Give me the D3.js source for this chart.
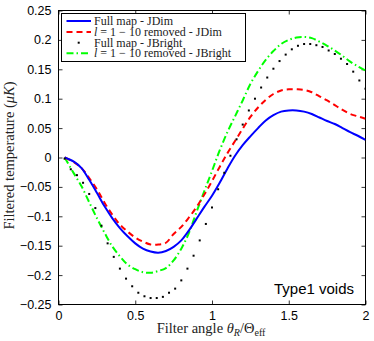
<!DOCTYPE html>
<html><head><meta charset="utf-8">
<script src="https://cdn.jsdelivr.net/npm/d3@7"></script>
<style>html,body{margin:0;padding:0;background:#fff;}svg{display:block;}</style>
</head><body>
<script>
// ---- data ----
const lineX = [0.04,0.10,0.15,0.20,0.25,0.30,0.35,0.40,0.45,0.50,0.55,0.60,0.65,0.70,0.75,0.80,0.85,0.90,0.95,1.00,
               1.05,1.10,1.15,1.20,1.25,1.30,1.35,1.40,1.45,1.50,1.55,1.60,1.65,1.70,1.75,1.80,1.85,1.90,1.95,2.00];
const fullDim = [0,-0.007,-0.018,-0.038,-0.060,-0.083,-0.103,-0.120,-0.134,-0.146,-0.155,-0.160,-0.162,-0.159,-0.152,-0.141,-0.124,-0.104,-0.084,-0.065,
                 -0.043,-0.019,0.003,0.021,0.036,0.050,0.063,0.072,0.078,0.080,0.080,0.078,0.074,0.068,0.062,0.057,0.050,0.043,0.037,0.030];
const removedDim = [0,-0.008,-0.018,-0.035,-0.054,-0.077,-0.097,-0.114,-0.126,-0.136,-0.143,-0.148,-0.148,-0.145,-0.130,-0.118,-0.102,-0.084,-0.063,-0.040,
                    -0.016,0.007,0.028,0.049,0.069,0.085,0.098,0.108,0.114,0.116,0.116,0.115,0.111,0.104,0.097,0.089,0.081,0.074,0.070,0.066];
const removedBright = [0,-0.027,-0.049,-0.076,-0.103,-0.128,-0.151,-0.168,-0.182,-0.190,-0.195,-0.196,-0.193,-0.188,-0.175,-0.155,-0.128,-0.092,-0.057,-0.023,
                       0.012,0.043,0.070,0.097,0.125,0.147,0.166,0.181,0.193,0.200,0.204,0.205,0.203,0.197,0.190,0.182,0.173,0.163,0.155,0.148];
const dotX = [0.04,0.08,0.12,0.16,0.20,0.24,0.28,0.32,0.36,0.40,0.44,0.48,0.52,0.56,0.60,0.64,0.68,0.72,0.76,0.80,
              0.84,0.88,0.92,0.96,1.00,1.04,1.08,1.12,1.16,1.20,1.24,1.28,1.32,1.36,1.40,1.44,1.48,1.52,1.56,1.60,
              1.64,1.68,1.72,1.76,1.80,1.84,1.88,1.92,1.96,2.00];
const fullBright = [-0.002,-0.020,-0.030,-0.043,-0.062,-0.086,-0.116,-0.146,-0.169,-0.189,-0.206,-0.219,-0.230,-0.236,-0.239,-0.239,-0.237,-0.230,-0.223,-0.209,
                    -0.189,-0.167,-0.141,-0.113,-0.085,-0.054,-0.026,0.003,0.031,0.056,0.080,0.100,0.119,0.136,0.151,0.164,0.175,0.184,0.190,0.193,
                    0.193,0.191,0.188,0.182,0.176,0.168,0.159,0.146,0.131,0.117];
const xTicks = [0,0.5,1,1.5,2];
const yTicks = [-0.25,-0.2,-0.15,-0.1,-0.05,0,0.05,0.1,0.15,0.2,0.25];
const legendLabels = ["Full map - JDim","l = 1 − 10 removed - JDim","Full map - JBright","l = 1 − 10 removed - JBright"];

// ---- layout ----
const W = 374, H = 341;
const L = 58.5, R = 365.5, T = 10.5, B = 304.5;
const svg = d3.select("body").append("svg").attr("width", W).attr("height", H);
const x = d3.scaleLinear().domain([0,2]).range([L,R]);
const y = d3.scaleLinear().domain([-0.25,0.25]).range([B,T]);

const fmt = v => { let s = d3.format("")(+v.toFixed(2)); return s.replace("-", "\u2212"); };

// axes with inward ticks
const tl = 4;
svg.append("g").attr("transform",`translate(0,${B})`)
  .call(d3.axisBottom(x).tickValues(xTicks).tickSizeInner(-tl).tickSizeOuter(0).tickPadding(7).tickFormat(fmt));
svg.append("g").attr("transform",`translate(0,${T})`)
  .call(d3.axisTop(x).tickValues(xTicks).tickSizeInner(-tl).tickSizeOuter(0).tickFormat(""));
svg.append("g").attr("transform",`translate(${L},0)`)
  .call(d3.axisLeft(y).tickValues(yTicks).tickSizeInner(-tl).tickSizeOuter(0).tickPadding(7).tickFormat(fmt));
svg.append("g").attr("transform",`translate(${R},0)`)
  .call(d3.axisRight(y).tickValues(yTicks).tickSizeInner(-tl).tickSizeOuter(0).tickFormat(""));
svg.selectAll(".domain").remove();
svg.selectAll(".tick line").attr("stroke","#000").attr("stroke-width",0.8);
svg.selectAll(".tick text").attr("font-family","'Liberation Sans', Arial, sans-serif").attr("font-size",12.5).attr("fill","#000");
svg.append("rect").attr("x",L).attr("y",T).attr("width",R-L).attr("height",B-T)
  .attr("fill","none").attr("stroke","#000").attr("stroke-width",1);

// clip
svg.append("clipPath").attr("id","clip").append("rect").attr("x",L).attr("y",T).attr("width",R-L).attr("height",B-T);
const plot = svg.append("g").attr("clip-path","url(#clip)");

const line = d3.line().x(d=>x(d[0])).y(d=>y(d[1])).curve(d3.curveCatmullRom);
const series = [
  {v: fullDim, color:"#0000ff", dash:null},
  {v: removedDim, color:"#ff0000", dash:"6,4"},
  {v: removedBright, color:"#00ff00", dash:"7,3,1.5,3"}
];
series.slice().reverse().forEach(s => {
  plot.append("path").datum(lineX.map((xx,i)=>[xx,s.v[i]]))
    .attr("d",line).attr("fill","none").attr("stroke",s.color).attr("stroke-width",2)
    .attr("stroke-dasharray",s.dash);
});
plot.selectAll("rect.dot").data(dotX.map((xx,i)=>[xx,fullBright[i]])).enter().append("rect")
  .attr("x",d=>x(d[0])-1).attr("y",d=>y(d[1])-1).attr("width",2).attr("height",2).attr("fill","#000");

// legend
const lg = svg.append("g");
lg.append("rect").attr("x",61.5).attr("y",13.5).attr("width",184).attr("height",48)
  .attr("fill","#fff").attr("stroke","#000").attr("stroke-width",1);
const rows = [21, 32, 42.7, 53.3];
const serif = "'Liberation Serif', 'Times New Roman', serif";
rows.forEach((ry,i) => {
  if (i === 2) {
    lg.append("rect").attr("x",77.7).attr("y",ry-1).attr("width",2).attr("height",2).attr("fill","#000");
  } else {
    const s = i===0?series[0]:(i===1?series[1]:series[2]);
    lg.append("line").attr("x1",66.5).attr("x2",91).attr("y1",ry).attr("y2",ry)
      .attr("stroke",s.color).attr("stroke-width",2).attr("stroke-dasharray",s.dash);
  }
  const t = lg.append("text").attr("x",94).attr("y",ry+4).attr("font-family",serif).attr("font-size",12).attr("fill","#222");
  const lab = legendLabels[i];
  if (lab.startsWith("l ")) {
    t.append("tspan").attr("font-style","italic").text("l");
    t.append("tspan").text(lab.slice(1));
  } else t.text(lab);
});

// annotation
svg.append("text").attr("x",354).attr("y",294).attr("text-anchor","end")
  .attr("font-family","'Liberation Sans', Arial, sans-serif").attr("font-size",15).attr("fill","#000").text("Type1 voids");

// axis labels
const xl = svg.append("text").attr("x",211).attr("y",333).attr("text-anchor","middle")
  .attr("font-family",serif).attr("font-size",14.5).attr("fill","#222");
xl.append("tspan").text("Filter angle ");
xl.append("tspan").attr("font-style","italic").text("θ");
xl.append("tspan").attr("font-style","italic").attr("font-size",10).attr("dy",3).text("R");
xl.append("tspan").attr("dy",-3).text("/Θ");
xl.append("tspan").attr("font-size",10).attr("dy",3).text("eff");

const yl = svg.append("text").attr("transform","translate(14,155.5) rotate(-90)").attr("text-anchor","middle")
  .attr("font-family",serif).attr("font-size",14.5).attr("fill","#222");
yl.append("tspan").text("Filtered temperature (");
yl.append("tspan").attr("font-style","italic").text("μK");
yl.append("tspan").text(")");
</script>
</body></html>
